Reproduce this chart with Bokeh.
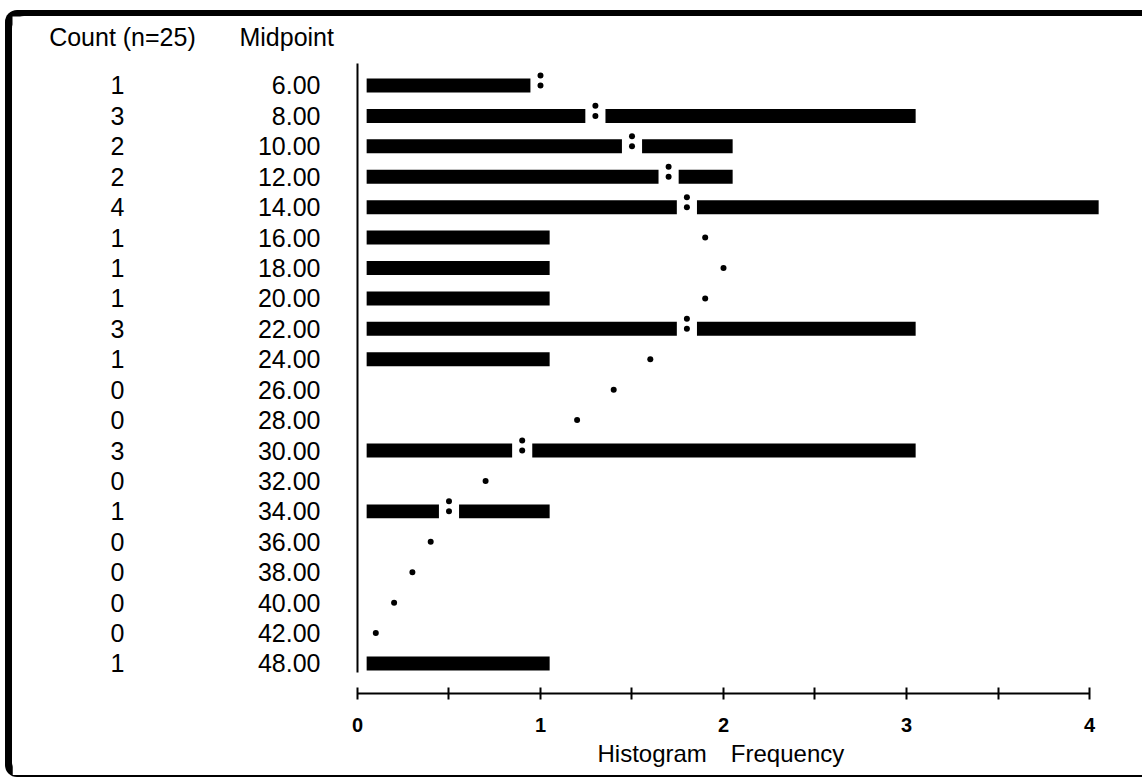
import math
from bokeh.plotting import figure
from bokeh.models import ColumnDataSource, Range1d, FixedTicker, Title
from bokeh.core.properties import value
from bokeh.embed import file_html
from bokeh.resources import INLINE

# ---------------- data ----------------
midpoints = ["6.00", "8.00", "10.00", "12.00", "14.00", "16.00", "18.00", "20.00",
             "22.00", "24.00", "26.00", "28.00", "30.00", "32.00", "34.00", "36.00",
             "38.00", "40.00", "42.00", "48.00"]
counts = [1, 3, 2, 2, 4, 1, 1, 1, 3, 1, 0, 0, 3, 0, 1, 0, 0, 0, 0, 1]
normal_curve = [1.0, 1.3, 1.5, 1.7, 1.8, 1.9, 2.0, 1.9, 1.8, 1.6, 1.4, 1.2,
                0.9, 0.7, 0.5, 0.4, 0.3, 0.2, 0.1, None]
freq_ticks = [0, 1, 2, 3, 4]
freq_minor_ticks = [0.5, 1.5, 2.5, 3.5]
count_header = "Count (n=25)"
midpoint_header = "Midpoint"
x_title = "Histogram\u2003Frequency"

# ---------------- layout / style ----------------
FONT = "Liberation Sans"
BAR_OFFSET = 0.05
BAR_H = 0.46
GAP_W = 0.11
COLON_DY = 0.33
COUNT_X = -1.3115
MID_X = -0.2022
HEADER_Y = -1.58
COUNT_HEAD_X = -1.685
MID_HEAD_X = -0.645

n = len(midpoints)
rows = list(range(n))

p = figure(width=1130, height=759, output_backend="svg", toolbar_location=None,
           x_range=Range1d(-1.8852, 4.2896), y_range=Range1d(19.987, -2.268),
           y_axis_location=None, min_border_left=0, min_border_right=0,
           min_border_top=0, min_border_bottom=82)
p.outline_line_color = None
p.xgrid.visible = False
p.ygrid.visible = False
p.background_fill_color = "white"
p.border_fill_color = "white"
# frame drawn round the chart (thick top/left, thin bottom) without changing its size
p.styles = {"margin-left": "12px", "margin-top": "16px", "vertical-align": "top",
            "border-radius": "12px 0 0 12px",
            "box-shadow": "-7px -6px 0 0 #000, 0 -6px 0 0 #000, 0 2px 0 0 #000, -7px 2px 0 0 #000"}

# bars
bar_rows = [r for r in rows if counts[r] > 0]
bar_src = ColumnDataSource(dict(
    y=bar_rows,
    left=[BAR_OFFSET] * len(bar_rows),
    right=[counts[r] + BAR_OFFSET for r in bar_rows]))
p.hbar(y="y", left="left", right="right", height=BAR_H, source=bar_src,
       fill_color="black", line_color=None)

# normal-curve points; where the curve falls within a bar, cut a gap and print a colon
curve_rows = [r for r in rows if normal_curve[r] is not None]
colon_rows = [r for r in curve_rows if counts[r] > 0 and normal_curve[r] <= counts[r] + BAR_OFFSET]
p.rect(x=[normal_curve[r] for r in colon_rows], y=colon_rows, width=GAP_W, height=0.7,
       fill_color="white", line_color=None)
p.scatter(x=[normal_curve[r] for r in curve_rows], y=curve_rows, size=6,
          marker="circle", fill_color="black", line_color=None)
p.scatter(x=[normal_curve[r] for r in colon_rows], y=[r - COLON_DY for r in colon_rows],
          size=6, marker="circle", fill_color="black", line_color=None)

# vertical base line
p.segment(x0=[0], y0=[-0.72], x1=[0], y1=[19.3], line_color="black", line_width=2)

# text columns
p.text(x=[COUNT_X] * n, y=rows, text=[str(c) for c in counts],
       text_align="center", text_baseline="middle",
       text_font=value(FONT), text_font_size="25px", text_color="black")
p.text(x=[MID_X] * n, y=rows, text=midpoints,
       text_align="right", text_baseline="middle",
       text_font=value(FONT), text_font_size="25px", text_color="black")
p.text(x=[COUNT_HEAD_X, MID_HEAD_X], y=[HEADER_Y, HEADER_Y],
       text=[count_header, midpoint_header],
       text_align="left", text_baseline="middle",
       text_font=value(FONT), text_font_size="25px", text_color="black")

# frequency axis
ax = p.xaxis[0]
ax.ticker = FixedTicker(ticks=freq_ticks, minor_ticks=freq_minor_ticks)
ax.bounds = (freq_ticks[0], freq_ticks[-1])
ax.axis_line_width = 2
ax.axis_line_color = "black"
ax.major_tick_in = 6
ax.major_tick_out = 6
ax.minor_tick_in = 6
ax.minor_tick_out = 6
ax.major_tick_line_width = 2
ax.minor_tick_line_width = 2
ax.major_tick_line_color = "black"
ax.minor_tick_line_color = "black"
ax.major_label_text_font = FONT
ax.major_label_text_font_size = "20px"
ax.major_label_text_font_style = "bold"
ax.major_label_text_color = "black"
ax.major_label_standoff = 18

# axis title, placed under the centre of the 0-4 scale
p.add_layout(Title(text=x_title, align="left", offset=585, text_font=FONT,
                   text_font_size="24px", text_font_style="normal",
                   text_color="black", standoff=7), "below")

open("out.html", "w").write(file_html(p, INLINE))
